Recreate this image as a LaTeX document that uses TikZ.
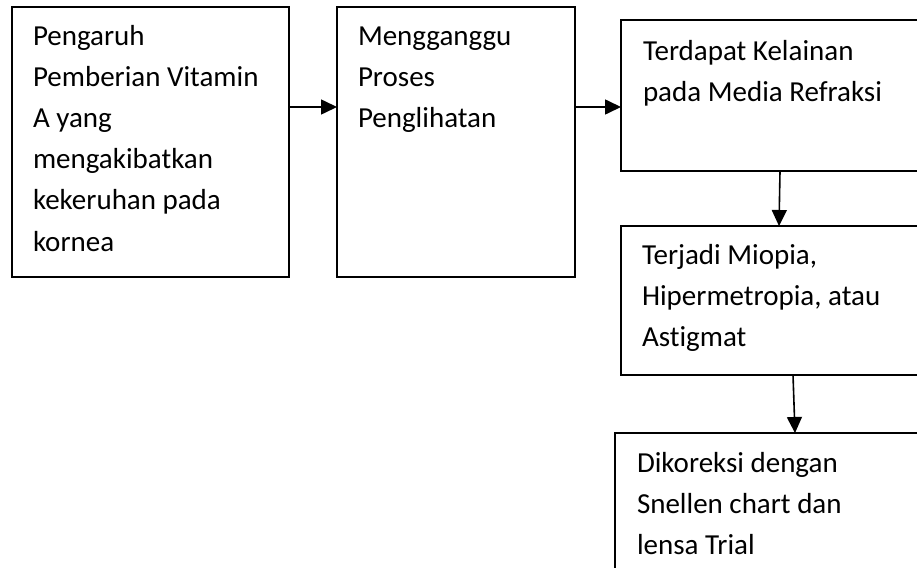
\documentclass[tikz,border=0pt]{standalone}
\usepackage{fontspec}
\setmainfont{Carlito}[Ligatures={NoCommon}, RawFeature={-liga;-clig;-dlig}]
\usetikzlibrary{arrows.meta}
\begin{document}
\begin{tikzpicture}[x=1pt,y=-1pt,
  box/.style={draw, line width=1.6pt, inner sep=0pt, outer sep=0pt, anchor=north west},
  txt/.style={inner sep=0pt, outer sep=0pt, anchor=north west, align=left,
    font=\fontsize{29}{41.2}\selectfont},
  arr/.style={line width=1.6pt, -{Triangle[length=16pt,width=15pt]}}]
\useasboundingbox (0,0) rectangle (917,567);
\clip (0,0) rectangle (917,567);
\node[box, minimum width=277pt, minimum height=270pt] (b1) at (12,7) {};
\node[box, minimum width=238pt, minimum height=270pt] (b2) at (337,7) {};
\node[box, minimum width=320pt, minimum height=151pt] (b3) at (621,20) {};
\node[box, minimum width=320pt, minimum height=149pt] (b4) at (621,226) {};
\node[box, minimum width=320pt, minimum height=160pt] (b5) at (615,433) {};
\node[txt] (t1) at ([xshift=21pt,yshift=-9.2pt]b1.north west)
  {\strut Pengaruh\\Pemberian Vitamin\\A yang\\mengakibatkan\\kekeruhan pada\\kornea};
\node[txt] (t2) at ([xshift=21pt,yshift=-9.2pt]b2.north west)
  {\strut Mengganggu\\Proses\\Penglihatan};
\node[txt] (t3) at ([xshift=22pt,yshift=-11.2pt]b3.north west)
  {\strut Terdapat Kelainan\\pada Media Refraksi};
\node[txt] (t4) at ([xshift=21pt,yshift=-9.2pt]b4.north west)
  {\strut Terjadi Miopia,\\Hipermetropia, atau\\Astigmat};
\node[txt] (t5) at ([xshift=22pt,yshift=-10.2pt]b5.north west)
  {\strut Dikoreksi dengan\\Snellen chart dan\\lensa Trial};
\draw[arr] ([yshift=-100pt]b1.north east) -- ([yshift=-100pt]b2.north west);
\draw[arr] ([yshift=-100pt]b2.north east) -- ([yshift=-87pt]b3.north west);
\draw[arr] ([xshift=159pt]b3.south west) -- ([xshift=158pt]b4.north west);
\draw[arr] ([xshift=172pt]b4.south west) -- ([xshift=180pt]b5.north west);
\end{tikzpicture}
\end{document}
